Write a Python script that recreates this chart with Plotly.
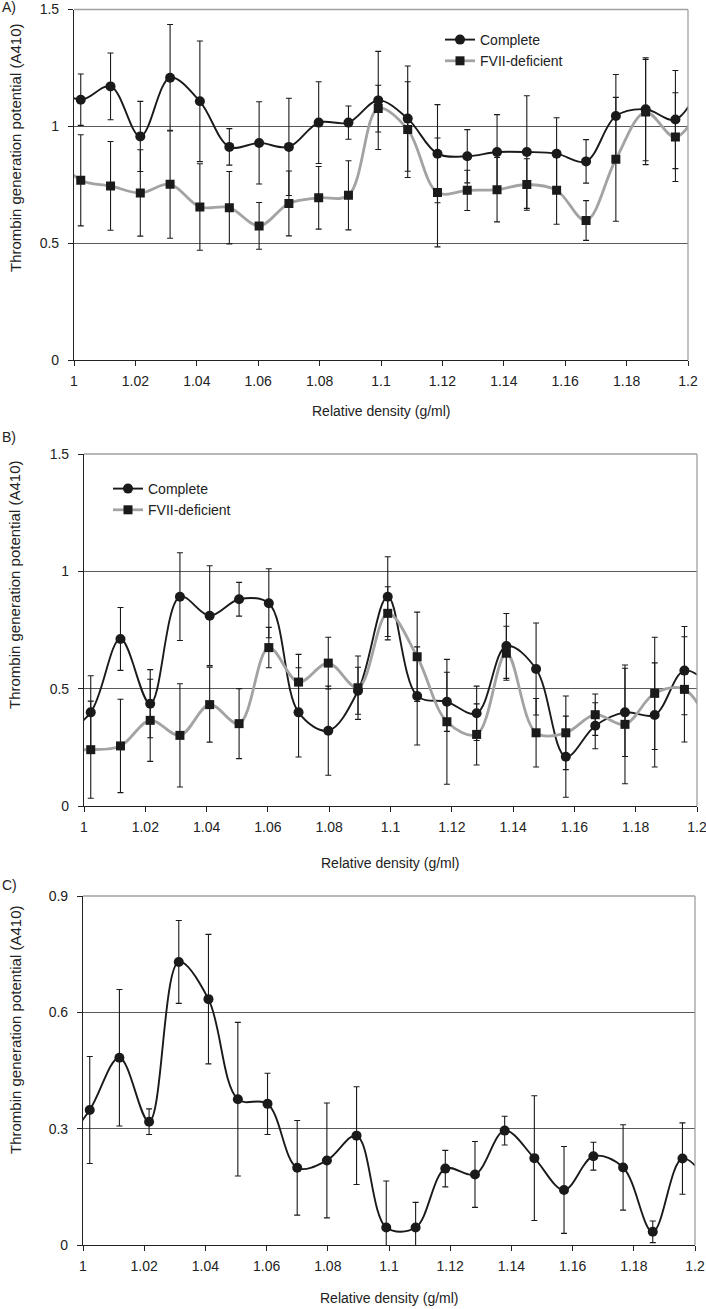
import plotly.graph_objects as go

W, H = 706, 1309

# ---------------- data ----------------
# fraction densities (g/ml); first/last entries are the neighbouring fractions
# just outside the displayed 1.0-1.2 window (only the curve ends show)
density = [0.9925, 1.0022, 1.0119, 1.0216, 1.0313, 1.0410, 1.0506, 1.0603, 1.0700,
           1.0797, 1.0894, 1.0991, 1.1087, 1.1184, 1.1281, 1.1378, 1.1475,
           1.1572, 1.1668, 1.1765, 1.1862, 1.1959, 1.2056]

# Panel A
a_complete = [1.18, 1.114, 1.171, 0.957, 1.208, 1.107, 0.912, 0.929, 0.912, 1.016, 1.016,
              1.111, 1.033, 0.883, 0.872, 0.890, 0.890, 0.883, 0.850, 1.044, 1.073, 1.029, 1.22]
a_complete_err = [None, 0.11, 0.143, 0.15, 0.228, 0.258, 0.078, 0.176, 0.208, 0.175, 0.071,
                  0.21, 0.225, 0.21, 0.114, 0.16, 0.241, 0.154, 0.093, 0.178, 0.22, 0.21, None]
a_fvii = [0.90, 0.769, 0.745, 0.715, 0.752, 0.655, 0.652, 0.574, 0.670, 0.694, 0.705,
          1.076, 0.986, 0.717, 0.726, 0.729, 0.751, 0.726, 0.597, 0.859, 1.061, 0.954, 1.12]
a_fvii_err = [None, 0.195, 0.19, 0.185, 0.231, 0.185, 0.155, 0.1, 0.139, 0.134, 0.148,
              0.1, 0.205, 0.233, 0.086, 0.138, 0.11, 0.145, 0.085, 0.265, 0.225, 0.19, None]

# Panel B
b_complete = [0.30, 0.399, 0.712, 0.436, 0.892, 0.811, 0.881, 0.864, 0.399, 0.321, 0.491,
              0.892, 0.469, 0.444, 0.395, 0.682, 0.584, 0.210, 0.342, 0.399, 0.388, 0.577, 0.50]
b_complete_err = [None, 0.156, 0.134, 0.145, 0.187, 0.213, 0.072, 0.147, 0.19, 0.19, 0.1,
                  0.17, 0.209, 0.126, 0.116, 0.138, 0.196, 0.173, 0.098, 0.188, 0.222, 0.188, None]
b_fvii = [0.245, 0.240, 0.256, 0.365, 0.301, 0.432, 0.351, 0.675, 0.528, 0.609, 0.504,
          0.821, 0.636, 0.359, 0.305, 0.651, 0.312, 0.312, 0.389, 0.348, 0.480, 0.497, 0.30]
b_fvii_err = [None, 0.207, 0.199, 0.175, 0.22, 0.16, 0.149, 0.086, 0.118, 0.11, 0.135,
              0.113, 0.19, 0.266, 0.13, 0.115, 0.146, 0.157, 0.088, 0.253, 0.239, 0.224, None]

# Panel C
c_vals = [0.25, 0.348, 0.483, 0.318, 0.730, 0.634, 0.376, 0.364, 0.199, 0.218, 0.282,
          0.045, 0.045, 0.197, 0.182, 0.295, 0.224, 0.142, 0.229, 0.200, 0.034, 0.223, 0.15]
c_err = [None, 0.138, 0.176, 0.033, 0.107, 0.167, 0.198, 0.079, 0.122, 0.148, 0.126,
         0.12, 0.065, 0.047, 0.085, 0.037, 0.161, 0.112, 0.036, 0.11, 0.028, 0.092, None]

x_tickvals = [1.0, 1.02, 1.04, 1.06, 1.08, 1.1, 1.12, 1.14, 1.16, 1.18, 1.2]
x_ticktext = ["1", "1.02", "1.04", "1.06", "1.08", "1.1", "1.12", "1.14", "1.16", "1.18", "1.2"]
ab_tickvals = [0, 0.5, 1, 1.5]
ab_ticktext = ["0", "0.5", "1", "1.5"]
c_tickvals = [0, 0.3, 0.6, 0.9]
c_ticktext = ["0", "0.3", "0.6", "0.9"]

FONT = "Liberation Sans, Arial, sans-serif"
BLACK = "#1a1a1a"
GRAY = "#a3a3a3"

# panel boxes in pixels: (left, right, top, bottom)
boxes = {
    "A": (74, 688, 9.5, 360),
    "B": (84, 697, 454, 806),
    "C": (83, 695, 896, 1245),
}


def xdom(b):
    return [b[0] / W, b[1] / W]


def ydom(b):
    return [1 - b[3] / H, 1 - b[2] / H]


fig = go.Figure()


def series(xa, ya, y, err, name, color, lw, symbol, msize, legend, showlegend):
    fig.add_trace(go.Scatter(
        x=density, y=y, xaxis=xa, yaxis=ya, name=name,
        mode="lines+markers",
        line=dict(color=color, width=lw, shape="spline", smoothing=1.0),
        marker=dict(symbol=symbol, size=msize, color=BLACK),
        error_y=dict(type="data", array=err, visible=True, color=BLACK,
                     thickness=1.1, width=3),
        legend=legend, showlegend=showlegend,
    ))


series("x", "y", a_complete, a_complete_err, "Complete", BLACK, 1.9, "circle", 10, "legend", True)
series("x", "y", a_fvii, a_fvii_err, "FVII-deficient", GRAY, 2.8, "square", 9, "legend", True)
series("x2", "y2", b_complete, b_complete_err, "Complete", BLACK, 1.9, "circle", 10, "legend2", True)
series("x2", "y2", b_fvii, b_fvii_err, "FVII-deficient", GRAY, 2.8, "square", 9, "legend2", True)
series("x3", "y3", c_vals, c_err, "Complete", BLACK, 1.9, "circle", 10, "legend", False)

axis_font = dict(family=FONT, size=14, color="#222")


def xaxis(b, anchor):
    return dict(domain=xdom(b), anchor=anchor, range=[1.0, 1.2],
                tickvals=x_tickvals, ticktext=x_ticktext,
                ticks="outside", ticklen=5, tickcolor="#222", tickwidth=1,
                showline=True, linecolor="#222", linewidth=1.2,
                showgrid=False, zeroline=False, tickfont=axis_font,
                automargin=False, ticklabeloverflow="allow", ticklabelstandoff=3)


def yaxis(b, anchor, rng, tv, tt):
    return dict(domain=ydom(b), anchor=anchor, range=rng,
                tickvals=tv, ticktext=tt,
                ticks="outside", ticklen=5, tickcolor="#222", tickwidth=1,
                showline=True, linecolor="#222", linewidth=1.2,
                showgrid=True, gridcolor="#5a5a5a", gridwidth=1.2,
                zeroline=False, tickfont=axis_font, automargin=False,
                ticklabeloverflow="allow", ticklabelstandoff=6)


shapes = []
for xr, yr in [("x", "y"), ("x2", "y2"), ("x3", "y3")]:
    shapes.append(dict(type="line", xref=f"{xr} domain", yref=f"{yr} domain",
                       x0=0, x1=1, y0=1, y1=1, line=dict(color="#a0a0a0", width=1.3),
                       layer="above"))
    shapes.append(dict(type="line", xref=f"{xr} domain", yref=f"{yr} domain",
                       x0=1, x1=1, y0=0, y1=1, line=dict(color="#a0a0a0", width=1.3),
                       layer="above"))

annotations = []


def ann(text, x, y, xanchor="center", yanchor="middle", angle=0, size=14):
    annotations.append(dict(text=text, x=x / W, y=1 - y / H, xref="paper", yref="paper",
                            xanchor=xanchor, yanchor=yanchor, textangle=angle,
                            showarrow=False, font=dict(family=FONT, size=size, color="#222")))


ann("A)", 0, 7, xanchor="left")
ann("B)", 0, 437, xanchor="left")
ann("C)", 0, 885, xanchor="left")
ytitle = "Thrombin generation potential (A410)"
ann(ytitle, 15, 148, angle=-90, size=15)
ann(ytitle, 15, 585, angle=-90, size=15)
ann(ytitle, 15, 1030, angle=-90, size=15)
xtitle = "Relative density (g/ml)"
ann(xtitle, 381, 411)
ann(xtitle, 390, 863)
ann(xtitle, 389, 1298)

legend_common = dict(font=dict(family=FONT, size=14, color="#222"),
                     bgcolor="rgba(0,0,0,0)", borderwidth=0,
                     xanchor="left", yanchor="top", tracegroupgap=0,
                     itemwidth=30)

fig.update_layout(
    template="none",
    width=W, height=H,
    margin=dict(l=0, r=0, t=0, b=0, pad=0),
    paper_bgcolor="white", plot_bgcolor="white",
    font=dict(family=FONT, size=14, color="#222"),
    xaxis=xaxis(boxes["A"], "y"),
    yaxis=yaxis(boxes["A"], "x", [0, 1.5], ab_tickvals, ab_ticktext),
    xaxis2=xaxis(boxes["B"], "y2"),
    yaxis2=yaxis(boxes["B"], "x2", [0, 1.5], ab_tickvals, ab_ticktext),
    xaxis3=xaxis(boxes["C"], "y3"),
    yaxis3=yaxis(boxes["C"], "x3", [0, 0.9], c_tickvals, c_ticktext),
    legend=dict(x=440 / W, y=1 - 24 / H, **legend_common),
    legend2=dict(x=108 / W, y=1 - 473 / H, **legend_common),
    shapes=shapes,
    annotations=annotations,
)

fig.write_html(
    "out.html",
    config={"displayModeBar": False},
    post_script="document.body.style.margin='0';document.body.style.padding='0';",
)
